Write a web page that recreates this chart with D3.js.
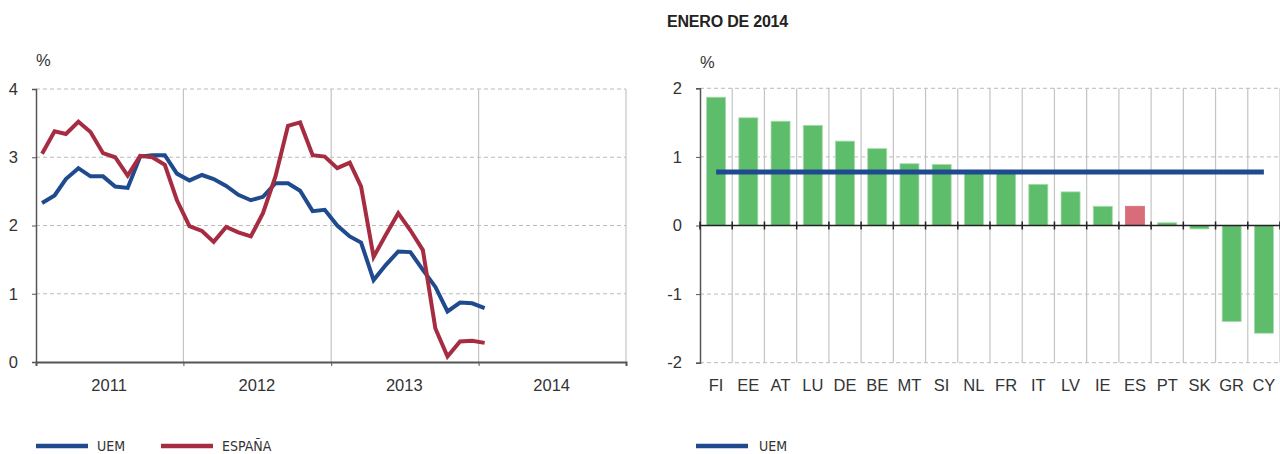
<!DOCTYPE html>
<html>
<head>
<meta charset="utf-8">
<script src="https://cdnjs.cloudflare.com/ajax/libs/d3/7.8.5/d3.min.js"></script>
<style>
  body { margin: 0; background: #fff; }
  svg { display: block; font-family: "Liberation Sans", Arial, sans-serif; }
  .tick-label { font-size: 16.5px; fill: #333; }
  .legend { font-family: "Liberation Sans Narrow", "DejaVu Sans Condensed", sans-serif; font-size: 14px; fill: #333; }
</style>
</head>
<body>
<svg width="1280" height="454"></svg>
<script>
// left panel: monthly series Jan 2011 - Jan 2014
const years = ['2011', '2012', '2013', '2014']
const uem = [2.33, 2.44, 2.68, 2.84, 2.72, 2.72, 2.57, 2.55, 3.01, 3.03, 3.03, 2.76,
             2.66, 2.74, 2.68, 2.58, 2.45, 2.37, 2.42, 2.62, 2.62, 2.51, 2.21, 2.23,
             2.00, 1.84, 1.75, 1.20, 1.42, 1.62, 1.61, 1.35, 1.10, 0.74, 0.87, 0.86,
             0.79]
const espana = [3.05, 3.38, 3.34, 3.52, 3.37, 3.06, 3.00, 2.73, 3.02, 3.00, 2.89, 2.37,
                1.99, 1.92, 1.76, 1.98, 1.90, 1.84, 2.18, 2.72, 3.46, 3.51, 3.03, 3.01,
                2.84, 2.92, 2.57, 1.54, 1.86, 2.18, 1.93, 1.64, 0.49, 0.08, 0.30, 0.31,
                0.28]
const leftTicks = [0, 1, 2, 3, 4]

// right panel: enero de 2014
const countries = ['FI', 'EE', 'AT', 'LU', 'DE', 'BE', 'MT', 'SI', 'NL', 'FR', 'IT', 'LV', 'IE', 'ES', 'PT', 'SK', 'GR', 'CY']
const values = [1.87, 1.57, 1.52, 1.46, 1.23, 1.12, 0.90, 0.89, 0.79, 0.78, 0.60, 0.49, 0.28, 0.28, 0.04, -0.05, -1.40, -1.57]
const uemJan14 = 0.78
const rightTicks = [-2, -1, 0, 1, 2]

const blue = '#1f4b8e'
const red = '#a52c41'
const green = '#5ebd6a'
const greenEdge = '#a6dbab'
const esRed = '#d96c79'
const gridGrey = '#c4c4c4'
const axisGrey = '#555'

const svg = d3.select('svg')
const plain = d => String(d)

// ---------- left chart ----------
const months = d3.timeMonth.range(new Date(2011, 0, 1), new Date(2014, 1, 1))
const x = d3.scaleTime().domain([new Date(2011, 0, 1), new Date(2015, 0, 1)]).range([36, 626])
const y = d3.scaleLinear().domain([0, 4]).range([362, 89])
const midMonth = d => d3.timeDay.offset(d, 15)
const yearStarts = years.map(s => new Date(+s, 0, 1)).concat([new Date(2015, 0, 1)])

const gl = svg.append('g')
gl.selectAll('.hgrid').data(leftTicks.filter(t => t > 0)).enter().append('line')
  .attr('x1', x.range()[0]).attr('x2', x.range()[1])
  .attr('y1', d => y(d)).attr('y2', d => y(d))
  .attr('stroke', '#bbb').attr('stroke-dasharray', '4,3')
gl.selectAll('.vgrid').data(yearStarts.slice(1)).enter().append('line')
  .attr('x1', d => x(d)).attr('x2', d => x(d))
  .attr('y1', y(4)).attr('y2', y(0))
  .attr('stroke', gridGrey).attr('stroke-width', 1.2)

// y axis
const yAxis = d3.axisLeft(y).tickValues(leftTicks).tickFormat(plain).tickSize(4).tickPadding(14)
const ya = gl.append('g').attr('transform', `translate(${x.range()[0]},0)`).call(yAxis)
ya.attr('font-size', null).attr('font-family', null)
ya.select('.domain').attr('stroke', axisGrey).attr('stroke-width', 1.5)
ya.selectAll('line').attr('stroke', axisGrey)
ya.selectAll('text').attr('class', 'tick-label').attr('fill', '#333')

// x axis
const xAxis = d3.axisBottom(x).tickValues(yearStarts).tickSize(4).tickFormat('')
const xa = gl.append('g').attr('transform', `translate(0,${y(0)})`).call(xAxis)
xa.select('.domain').attr('stroke', axisGrey).attr('stroke-width', 2)
xa.selectAll('line').attr('stroke', axisGrey)
gl.selectAll('.yl').data(years).enter().append('text')
  .attr('class', 'tick-label')
  .attr('x', d => x(new Date(+d, 6, 1))).attr('y', 391)
  .attr('text-anchor', 'middle').text(d => d)

gl.append('text').attr('class', 'tick-label').attr('x', 36).attr('y', 66).text('%')

const line = d3.line().x((d, i) => x(midMonth(months[i]))).y(d => y(d))
gl.append('path').datum(uem).attr('d', line)
  .attr('fill', 'none').attr('stroke', blue).attr('stroke-width', 4).attr('stroke-linejoin', 'miter')
gl.append('path').datum(espana).attr('d', line)
  .attr('fill', 'none').attr('stroke', red).attr('stroke-width', 4).attr('stroke-linejoin', 'miter')

// left legend
const legL = [{ name: 'UEM', color: blue, x0: 36 }, { name: 'ESPAÑA', color: red, x0: 161 }]
const lg = svg.append('g').selectAll('g').data(legL).enter().append('g')
lg.append('line').attr('x1', d => d.x0).attr('x2', d => d.x0 + 52)
  .attr('y1', 446).attr('y2', 446).attr('stroke', d => d.color).attr('stroke-width', 4.5)
lg.append('text').attr('class', 'legend').attr('x', d => d.x0 + 61).attr('y', 451).text(d => d.name)

// ---------- right chart ----------
const xb = d3.scaleBand().domain(countries).range([700, 1280]).paddingInner(0.41).paddingOuter(0.205)
const yr = d3.scaleLinear().domain([-2, 2]).range([362.7, 88.3])
const step = xb.step()
const bounds = countries.map(c => xb(c) - xb.paddingOuter() * step).concat([xb.range()[1]])

const gr = svg.append('g')
gr.append('text').attr('x', 667).attr('y', 27)
  .style('font-size', '16px').style('font-weight', 'bold').style('letter-spacing', '-0.2px')
  .attr('fill', '#222').text('ENERO DE 2014')
gr.append('text').attr('class', 'tick-label').attr('x', 700).attr('y', 68).text('%')

gr.selectAll('.hgrid').data(rightTicks.filter(t => t !== 0)).enter().append('line')
  .attr('x1', 700).attr('x2', 1280)
  .attr('y1', d => yr(d)).attr('y2', d => yr(d))
  .attr('stroke', '#bbb').attr('stroke-dasharray', '4,3')
gr.selectAll('.vgrid').data(bounds.slice(1)).enter().append('line')
  .attr('x1', d => d).attr('x2', d => d)
  .attr('y1', yr(2)).attr('y2', yr(-2))
  .attr('stroke', gridGrey).attr('stroke-width', 1.2)

const yrAxis = d3.axisLeft(yr).tickValues(rightTicks).tickFormat(plain).tickSize(4).tickPadding(14)
const yra = gr.append('g').attr('transform', 'translate(700,0)').call(yrAxis)
yra.attr('font-size', null).attr('font-family', null)
yra.select('.domain').attr('stroke', axisGrey).attr('stroke-width', 1.5)
yra.selectAll('line').attr('stroke', axisGrey)
yra.selectAll('text').attr('class', 'tick-label').attr('fill', '#333')

gr.selectAll('.bar').data(countries).enter().append('rect')
  .attr('x', d => xb(d)).attr('width', xb.bandwidth())
  .attr('y', (d, i) => yr(Math.max(0, values[i])))
  .attr('height', (d, i) => Math.abs(yr(values[i]) - yr(0)))
  .attr('fill', d => d === 'ES' ? esRed : green)
  .attr('stroke', d => d === 'ES' ? esRed : greenEdge).attr('stroke-width', 0.8)

// zero line with ticks
gr.append('line').attr('x1', 700).attr('x2', 1280).attr('y1', yr(0)).attr('y2', yr(0))
  .attr('stroke', '#222').attr('stroke-width', 1.5)
gr.selectAll('.ztick').data(bounds).enter().append('line')
  .attr('x1', d => d).attr('x2', d => d)
  .attr('y1', yr(0) - 4).attr('y2', yr(0) + 4)
  .attr('stroke', '#222').attr('stroke-width', 1.5)

gr.append('line')
  .attr('x1', xb(countries[0]) + xb.bandwidth() / 2)
  .attr('x2', xb(countries[countries.length - 1]) + xb.bandwidth() / 2)
  .attr('y1', yr(uemJan14)).attr('y2', yr(uemJan14))
  .attr('stroke', blue).attr('stroke-width', 5)

gr.selectAll('.cl').data(countries).enter().append('text')
  .attr('class', 'tick-label')
  .attr('x', d => xb(d) + xb.bandwidth() / 2).attr('y', 391)
  .attr('text-anchor', 'middle').text(d => d)

gr.append('line').attr('x1', 696).attr('x2', 748).attr('y1', 446).attr('y2', 446)
  .attr('stroke', blue).attr('stroke-width', 4.5)
gr.append('text').attr('class', 'legend').attr('x', 759).attr('y', 451).text('UEM')
</script>
</body>
</html>
